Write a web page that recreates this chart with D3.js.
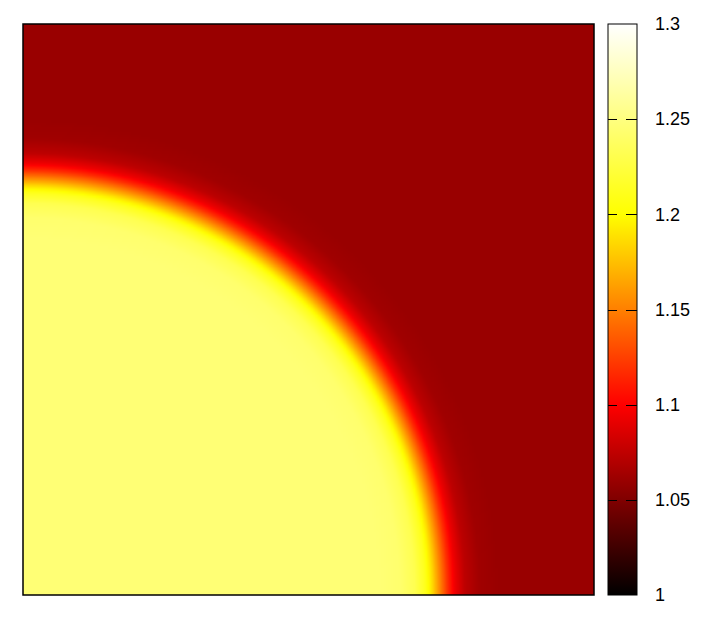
<!DOCTYPE html>
<html>
<head>
<meta charset="utf-8">
<script src="https://cdn.jsdelivr.net/npm/d3@7"></script>
<style>
  body { margin: 0; background: #fff; }
  svg text { font-family: "Liberation Sans", Arial, sans-serif; font-size: 18px; }
</style>
</head>
<body>
<div id="chart"></div>
<script>
// colour bar ticks
var cbTicks = [1, 1.05, 1.1, 1.15, 1.2, 1.25, 1.3];
var cbLabels = ['1', '1.05', '1.1', '1.15', '1.2', '1.25', '1.3'];

// radial profile: distance from the lower-left corner
// (in plot units, plot is 0..1 on both axes) and the field value there
var profileR = [0, 0.590, 0.625, 0.660, 0.686, 0.704, 0.716, 0.730, 0.744, 0.756, 0.774, 0.800, 0.835, 1.5];
var profileV = [1.246, 1.246, 1.246, 1.243, 1.232, 1.212, 1.188, 1.153, 1.118, 1.094, 1.074, 1.063, 1.060, 1.060];

var W = 708, H = 619;
var plot = {left: 23, top: 24, right: 594, bottom: 595};
var cb = {left: 608, right: 637};
var N = 240;

var svg = d3.select('#chart').append('svg')
  .attr('width', W)
  .attr('height', H);

var x = d3.scaleLinear().domain([0, 1]).range([plot.left, plot.right]);
var y = d3.scaleLinear().domain([0, 1]).range([plot.bottom, plot.top]);
var field = d3.scaleLinear().domain(profileR).range(profileV).clamp(true);
var cbScale = d3.scaleLinear().domain([1, 1.3]).range([plot.bottom, plot.top]);
var toUnit = d3.scaleLinear().domain([1, 1.3]).range([0, 1]).clamp(true);

// gnuplot "hot" palette (rgbformulae 21,22,23)
var hotRGB = function(t) {
  var c = function(v) { return Math.round(255 * Math.max(0, Math.min(1, v))); };
  return [c(3 * t), c(3 * t - 1), c(3 * t - 2)];
};
var hot = function(t) {
  var p = hotRGB(t);
  return 'rgb(' + p[0] + ',' + p[1] + ',' + p[2] + ')';
};

// heat map into a small canvas, then placed as an image in the plot rect
var canvas = document.createElement('canvas');
canvas.width = N;
canvas.height = N;
var ctx = canvas.getContext('2d');
var img = ctx.createImageData(N, N);
for (var j = 0; j < N; j++) {
  for (var i = 0; i < N; i++) {
    var px = (i + 0.5) / N, py = 1 - (j + 0.5) / N;
    var rgb = hotRGB(toUnit(field(Math.hypot(px, py))));
    var k = 4 * (j * N + i);
    img.data[k] = rgb[0];
    img.data[k + 1] = rgb[1];
    img.data[k + 2] = rgb[2];
    img.data[k + 3] = 255;
  }
}
ctx.putImageData(img, 0, 0);

svg.append('image')
  .attr('x', x(0))
  .attr('y', y(1))
  .attr('width', x(1) - x(0))
  .attr('height', y(0) - y(1))
  .attr('preserveAspectRatio', 'none')
  .attr('href', canvas.toDataURL());

svg.append('rect')
  .attr('x', x(0))
  .attr('y', y(1))
  .attr('width', x(1) - x(0))
  .attr('height', y(0) - y(1))
  .attr('fill', 'none')
  .attr('stroke', '#000')
  .attr('stroke-width', 1.5);

// colour bar
var grad = svg.append('defs').append('linearGradient')
  .attr('id', 'cbgrad')
  .attr('x1', 0).attr('y1', 1).attr('x2', 0).attr('y2', 0);
d3.range(0, 31).forEach(function(k) {
  grad.append('stop')
    .attr('offset', k / 30)
    .attr('stop-color', hot(k / 30));
});

svg.append('rect')
  .attr('x', cb.left)
  .attr('y', cbScale(1.3))
  .attr('width', cb.right - cb.left)
  .attr('height', cbScale(1) - cbScale(1.3))
  .attr('fill', 'url(#cbgrad)')
  .attr('stroke', '#000')
  .attr('stroke-width', 1);

var inner = cbTicks.filter(function(d) { return d > 1 && d < 1.3; });
svg.selectAll('line.tl').data(inner).enter().append('line')
  .attr('x1', cb.left).attr('x2', cb.left + 9)
  .attr('y1', function(d) { return Math.round(cbScale(d)) + 0.5; })
  .attr('y2', function(d) { return Math.round(cbScale(d)) + 0.5; })
  .attr('stroke', '#000');
svg.selectAll('line.tr').data(inner).enter().append('line')
  .attr('x1', cb.right - 11).attr('x2', cb.right)
  .attr('y1', function(d) { return Math.round(cbScale(d)) + 0.5; })
  .attr('y2', function(d) { return Math.round(cbScale(d)) + 0.5; })
  .attr('stroke', '#000');

svg.selectAll('text.cbl').data(cbTicks).enter().append('text')
  .attr('x', 655)
  .attr('y', function(d) { return cbScale(d); })
  .attr('dy', '0.35em')
  .attr('fill', '#000')
  .text(function(d, k) { return cbLabels[k]; });
</script>
</body>
</html>
